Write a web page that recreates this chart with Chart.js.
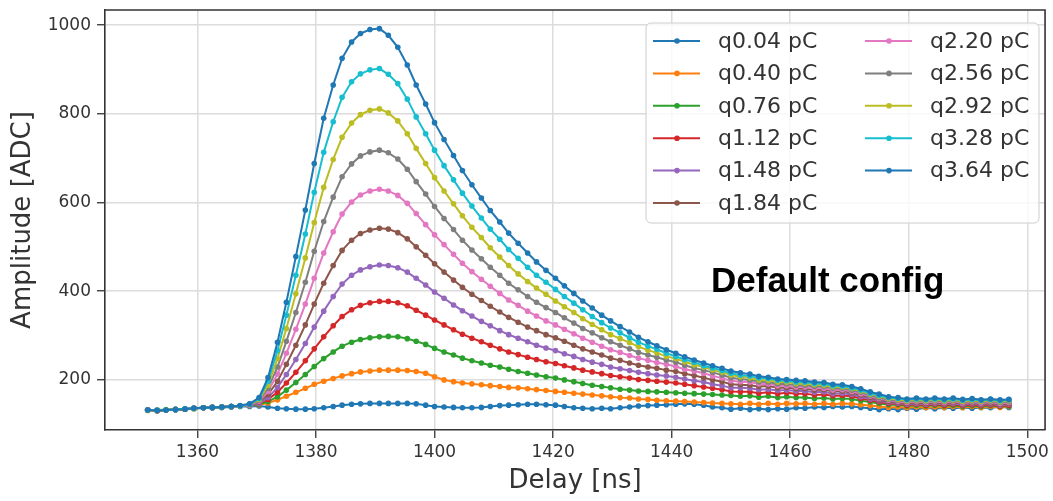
<!DOCTYPE html>
<html>
<head>
<meta charset="utf-8">
<script src="https://cdn.jsdelivr.net/npm/chart.js@4/dist/chart.umd.min.js"></script>
<style>
  html, body { margin: 0; padding: 0; background: #ffffff; }
  #wrap { width: 1053px; height: 501px; }
</style>
</head>
<body>
<div id="wrap"><canvas id="pulseChart" width="1053" height="501"></canvas></div>
<script>
// Delay samples [ns]
const delays = [
    1351.6, 1353.2, 1354.7, 1356.3, 1357.9, 1359.4, 1361.0, 1362.5, 1364.1, 1365.7,
    1367.2, 1368.8, 1370.4, 1371.9, 1373.5, 1375.0, 1376.6, 1378.2, 1379.7, 1381.3,
    1382.9, 1384.4, 1386.0, 1387.5, 1389.1, 1390.7, 1392.2, 1393.8, 1395.4, 1396.9,
    1398.5, 1400.0, 1401.6, 1403.2, 1404.7, 1406.3, 1407.9, 1409.4, 1411.0, 1412.5,
    1414.1, 1415.7, 1417.2, 1418.8, 1420.4, 1421.9, 1423.5, 1425.0, 1426.6, 1428.2,
    1429.7, 1431.3, 1432.9, 1434.4, 1436.0, 1437.5, 1439.1, 1440.7, 1442.2, 1443.8,
    1445.4, 1446.9, 1448.5, 1450.0, 1451.6, 1453.2, 1454.7, 1456.3, 1457.9, 1459.4,
    1461.0, 1462.5, 1464.1, 1465.7, 1467.2, 1468.8, 1470.4, 1471.9, 1473.5, 1475.0,
    1476.6, 1478.2, 1479.7, 1481.3, 1482.9, 1484.4, 1486.0, 1487.5, 1489.1, 1490.7,
    1492.2, 1493.8, 1495.4, 1496.9
];

// Amplitude [ADC] per injected charge
const q004 = [
    132, 131, 132, 132, 134, 135, 137, 137, 138, 139,
    140, 140, 141, 139, 136, 135, 134, 134, 135, 137,
    140, 143, 145, 146, 147, 147, 147, 147, 147, 146,
    143, 140, 139, 138, 137, 137, 138, 140, 142, 143,
    144, 145, 145, 144, 143, 140, 137, 136, 135, 136,
    135, 137, 139, 141, 142, 143, 144, 145, 146, 145,
    143, 139, 137, 134, 136, 133, 135, 133, 135, 134,
    137, 136, 139, 138, 140, 139, 140, 138, 136, 133,
    135, 133, 136, 134, 137, 135, 137, 136, 138, 136,
    138, 137, 139, 138
];
const q040 = [
    132, 131, 132, 133, 134, 136, 137, 138, 139, 140,
    141, 142, 144, 148, 155, 163, 172, 181, 190, 197,
    203, 209, 214, 218, 220, 222, 222, 222, 221, 219,
    215, 207, 200, 196, 193, 191, 189, 187, 185, 183,
    182, 180, 178, 176, 174, 172, 170, 168, 166, 164,
    162, 160, 159, 157, 156, 154, 153, 152, 151, 150,
    149, 148, 147, 146, 145, 147, 145, 147, 145, 147,
    146, 147, 145, 147, 145, 147, 146, 144, 142, 140,
    138, 139, 137, 139, 137, 139, 138, 140, 138, 140,
    138, 140, 138, 140
];
const q076 = [
    132, 131, 132, 133, 134, 136, 137, 138, 139, 140,
    141, 142, 145, 151, 162, 177, 194, 212, 230, 248,
    263, 276, 285, 291, 295, 297, 298, 297, 293, 287,
    280, 271, 263, 256, 249, 243, 238, 233, 229, 224,
    219, 215, 211, 207, 204, 200, 196, 192, 188, 185,
    182, 179, 177, 175, 174, 173, 172, 171, 170, 169,
    168, 167, 166, 165, 163, 164, 161, 163, 160, 162,
    160, 160, 158, 159, 157, 158, 157, 153, 150, 147,
    144, 144, 141, 143, 141, 143, 141, 143, 140, 142,
    140, 142, 140, 141
];
const q112 = [
    132, 131, 132, 133, 134, 136, 137, 138, 139, 140,
    141, 143, 147, 156, 172, 193, 217, 243, 270, 297,
    322, 343, 358, 368, 374, 377, 377, 374, 367, 357,
    346, 335, 324, 313, 303, 294, 286, 278, 270, 263,
    257, 251, 246, 241, 237, 232, 227, 222, 218, 214,
    210, 207, 204, 201, 199, 197, 195, 193, 190, 187,
    184, 181, 178, 174, 173, 173, 170, 172, 169, 171,
    169, 169, 166, 167, 164, 165, 163, 158, 154, 150,
    147, 146, 143, 145, 143, 145, 143, 145, 142, 144,
    142, 144, 141, 143
];
const q148 = [
    132, 132, 132, 133, 134, 136, 137, 138, 139, 140,
    141, 142, 147, 160, 183, 212, 246, 282, 319, 355,
    388, 416, 436, 448, 455, 459, 458, 453, 443, 429,
    414, 398, 384, 369, 356, 344, 332, 322, 311, 302,
    294, 286, 278, 272, 266, 259, 253, 246, 240, 235,
    229, 225, 221, 217, 214, 211, 209, 206, 202, 198,
    195, 190, 187, 182, 182, 181, 178, 179, 176, 177,
    175, 175, 172, 173, 169, 170, 167, 162, 157, 153,
    149, 148, 145, 147, 145, 147, 145, 147, 144, 146,
    144, 146, 143, 145
];
const q184 = [
    132, 131, 132, 133, 134, 136, 137, 138, 139, 140,
    141, 143, 150, 167, 197, 235, 278, 324, 371, 418,
    458, 492, 515, 530, 538, 542, 540, 532, 518, 500,
    481, 462, 443, 425, 409, 393, 379, 366, 353, 341,
    330, 319, 311, 302, 295, 287, 278, 270, 263, 256,
    249, 244, 238, 233, 229, 226, 222, 219, 214, 210,
    205, 200, 196, 190, 189, 188, 185, 186, 182, 183,
    180, 180, 177, 178, 174, 175, 171, 166, 160, 155,
    151, 150, 147, 149, 147, 149, 147, 149, 146, 148,
    146, 148, 145, 147
];
const q220 = [
    132, 132, 132, 133, 135, 136, 137, 138, 139, 140,
    141, 143, 152, 174, 213, 260, 314, 371, 429, 486,
    534, 574, 601, 617, 626, 630, 626, 616, 598, 575,
    550, 527, 505, 483, 463, 444, 427, 411, 395, 380,
    368, 355, 344, 333, 324, 314, 304, 294, 285, 276,
    268, 262, 255, 249, 244, 239, 235, 230, 224, 220,
    215, 209, 204, 198, 196, 195, 191, 191, 187, 187,
    184, 184, 181, 181, 177, 178, 174, 169, 163, 158,
    154, 152, 149, 151, 149, 151, 149, 151, 148, 150,
    148, 150, 147, 149
];
const q256 = [
    132, 131, 132, 134, 134, 136, 137, 138, 138, 140,
    141, 144, 154, 181, 229, 287, 352, 420, 490, 557,
    612, 658, 687, 705, 714, 718, 712, 698, 675, 647,
    619, 591, 564, 539, 515, 493, 473, 454, 436, 418,
    403, 388, 375, 363, 352, 340, 328, 316, 306, 295,
    286, 278, 270, 262, 256, 251, 245, 240, 233, 227,
    222, 217, 211, 205, 202, 200, 196, 195, 191, 191,
    188, 188, 185, 185, 181, 181, 177, 172, 165, 160,
    156, 154, 151, 153, 151, 153, 151, 153, 150, 152,
    150, 152, 149, 151
];
const q292 = [
    131, 132, 133, 133, 134, 135, 137, 138, 139, 140,
    141, 145, 156, 188, 248, 316, 394, 475, 555, 634,
    697, 747, 779, 798, 808, 811, 802, 784, 755, 722,
    688, 656, 626, 597, 570, 544, 521, 498, 477, 458,
    439, 422, 407, 393, 378, 365, 352, 338, 325, 313,
    302, 293, 284, 275, 267, 261, 253, 248, 241, 234,
    229, 223, 217, 211, 207, 205, 200, 199, 195, 195,
    192, 192, 189, 188, 184, 184, 180, 175, 168, 163,
    158, 156, 153, 155, 153, 155, 153, 155, 152, 154,
    152, 154, 151, 153
];
const q328 = [
    132, 132, 132, 133, 135, 136, 137, 138, 139, 140,
    141, 145, 158, 197, 266, 346, 436, 529, 623, 713,
    782, 837, 872, 890, 899, 902, 889, 868, 833, 793,
    755, 718, 683, 651, 621, 592, 565, 540, 517, 494,
    474, 454, 436, 420, 404, 388, 373, 358, 343, 329,
    317, 306, 295, 285, 276, 269, 260, 253, 246, 240,
    232, 227, 221, 215, 211, 209, 204, 203, 199, 198,
    195, 195, 192, 191, 187, 186, 182, 177, 170, 165,
    160, 158, 155, 157, 155, 157, 155, 157, 154, 156,
    154, 156, 153, 155
];
const q364 = [
    132, 131, 132, 133, 134, 136, 137, 138, 139, 140,
    142, 146, 160, 205, 285, 375, 478, 583, 688, 790,
    865, 925, 962, 981, 990, 992, 977, 950, 910, 865,
    822, 780, 742, 706, 672, 640, 610, 582, 556, 531,
    508, 486, 466, 447, 429, 412, 395, 378, 362, 346,
    333, 320, 308, 296, 286, 277, 268, 260, 252, 245,
    238, 232, 226, 220, 216, 213, 208, 206, 202, 201,
    199, 198, 195, 194, 190, 189, 185, 180, 173, 168,
    162, 160, 157, 159, 157, 159, 157, 159, 156, 158,
    155, 157, 155, 156
];

const seriesLabels = ['q0.04 pC', 'q0.40 pC', 'q0.76 pC', 'q1.12 pC', 'q1.48 pC', 'q1.84 pC',
                      'q2.20 pC', 'q2.56 pC', 'q2.92 pC', 'q3.28 pC', 'q3.64 pC'];
const seriesValues = [q004, q040, q076, q112, q148, q184, q220, q256, q292, q328, q364];
const seriesColors = ['#1f77b4', '#ff7f0e', '#2ca02c', '#d62728', '#9467bd', '#8c564b',
                      '#e377c2', '#7f7f7f', '#bcbd22', '#17becf', '#1f77b4'];

const xTicks = [1360, 1380, 1400, 1420, 1440, 1460, 1480, 1500];
const yTicks = [200, 400, 600, 800, 1000];

const tickFont = { family: "'DejaVu Sans', sans-serif", size: 17 };
const titleFont = { family: "'DejaVu Sans', sans-serif", size: 26 };
const inkColor = '#333333';

// matplotlib style: last series drawn on top
const datasets = seriesValues.map(function (vals, i) {
    return {
        label: seriesLabels[i],
        data: delays.map(function (d, k) { return { x: d, y: vals[k] }; }),
        borderColor: seriesColors[i],
        backgroundColor: seriesColors[i],
        order: seriesValues.length - i,
    };
});

// Box, legend and the note, drawn on the canvas
const framePlugin = {
    id: 'frame',
    afterDraw(chart) {
        const ctx = chart.ctx;
        const a = chart.chartArea;
        ctx.save();

        // top and right spines
        ctx.strokeStyle = inkColor;
        ctx.lineWidth = 1.6;
        ctx.beginPath();
        ctx.moveTo(a.left, a.top);
        ctx.lineTo(a.right, a.top);
        ctx.lineTo(a.right, a.bottom);
        ctx.stroke();

        // legend box
        const bx = 646, by = 23, bw = 393, bh = 200, r = 5;
        ctx.beginPath();
        ctx.moveTo(bx + r, by);
        ctx.arcTo(bx + bw, by, bx + bw, by + bh, r);
        ctx.arcTo(bx + bw, by + bh, bx, by + bh, r);
        ctx.arcTo(bx, by + bh, bx, by, r);
        ctx.arcTo(bx, by, bx + bw, by, r);
        ctx.closePath();
        ctx.fillStyle = 'rgba(255,255,255,0.8)';
        ctx.fill();
        ctx.strokeStyle = '#cccccc';
        ctx.lineWidth = 1;
        ctx.stroke();

        ctx.font = "22px 'DejaVu Sans', sans-serif";
        ctx.textBaseline = 'middle';
        ctx.textAlign = 'left';
        const rows = 6;
        seriesLabels.forEach(function (lab, i) {
            const col = Math.floor(i / rows);
            const row = i % rows;
            const y = 41 + row * 32.4;
            const x0 = col === 0 ? 653 : 865;
            ctx.strokeStyle = seriesColors[i];
            ctx.lineWidth = 2;
            ctx.beginPath();
            ctx.moveTo(x0, y);
            ctx.lineTo(x0 + 47, y);
            ctx.stroke();
            ctx.fillStyle = seriesColors[i];
            ctx.beginPath();
            ctx.arc(x0 + 24, y, 2.8, 0, Math.PI * 2);
            ctx.fill();
            ctx.fillStyle = inkColor;
            ctx.fillText(lab, x0 + 65, y + 1);
        });

        // note
        ctx.fillStyle = '#000000';
        ctx.font = "bold 35px 'Liberation Sans', sans-serif";
        ctx.textBaseline = 'alphabetic';
        ctx.fillText('Default config', 711, 292);

        ctx.restore();
    }
};

new Chart(document.getElementById('pulseChart'), {
    type: 'line',
    data: { datasets: datasets },
    options: {
        responsive: false,
        animation: false,
        layout: { padding: { top: 0, right: 5, left: 0, bottom: 0 } },
        elements: {
            line: { borderWidth: 2, tension: 0 },
            point: { radius: 2.8, borderWidth: 0, hoverRadius: 2.8 },
        },
        plugins: {
            legend: { display: false },
            tooltip: { enabled: false },
        },
        scales: {
            x: {
                type: 'linear',
                min: 1344.4,
                max: 1503,
                afterBuildTicks: function (scale) {
                    scale.ticks = xTicks.map(function (v) { return { value: v }; });
                },
                afterFit: function (scale) { scale.height = 71; },
                grid: { color: '#dcdcdc', lineWidth: 1.5, tickColor: inkColor, tickLength: 8, tickWidth: 1.3 },
                border: { color: inkColor, width: 1.6 },
                ticks: {
                    font: tickFont, color: inkColor, padding: 4, maxRotation: 0,
                    callback: function (v) { return String(v); },
                },
                title: { display: true, text: 'Delay [ns]', font: titleFont, color: inkColor, padding: { top: 0, bottom: 4 } },
            },
            y: {
                min: 87,
                max: 1034,
                afterBuildTicks: function (scale) {
                    scale.ticks = yTicks.map(function (v) { return { value: v }; });
                },
                afterFit: function (scale) {
                    scale.width = 105;
                    scale.paddingTop = 10;
                },
                grid: { color: '#dcdcdc', lineWidth: 1.5, tickColor: inkColor, tickLength: 8, tickWidth: 1.3 },
                border: { color: inkColor, width: 1.6 },
                ticks: {
                    font: tickFont, color: inkColor, padding: 6,
                    callback: function (v) { return String(v); },
                },
                title: { display: true, text: 'Amplitude [ADC]', font: titleFont, color: inkColor, padding: { top: 8, bottom: 0 } },
            },
        },
    },
    plugins: [framePlugin],
});
</script>
</body>
</html>
